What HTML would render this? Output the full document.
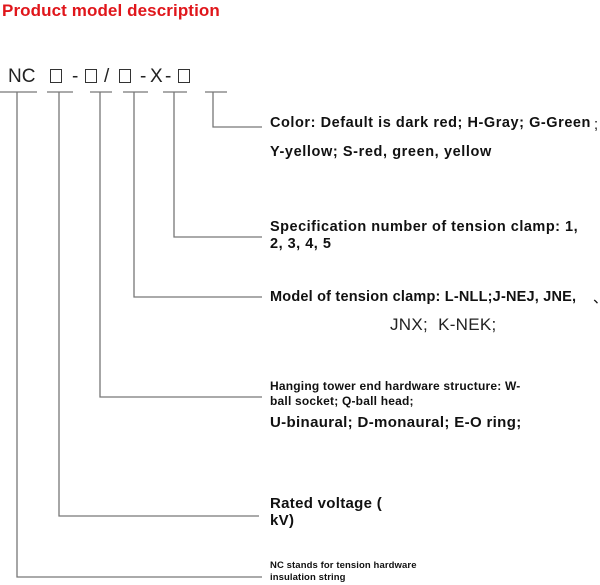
<!DOCTYPE html>
<html><head><meta charset="utf-8"><style>
body{margin:0;width:600px;height:585px;background:#fff;position:relative;overflow:hidden;font-family:"Liberation Sans",sans-serif}
.t{position:absolute;white-space:nowrap;color:#111;font-weight:bold;font-size:14.5px;line-height:17px;letter-spacing:0.3px}
.s{position:absolute;top:66px;font-size:19px;line-height:22px;color:#222;font-family:"Liberation Sans",sans-serif}
.b{position:absolute;top:69px;width:10px;height:12px;border:1.2px solid #333}
svg{position:absolute;left:0;top:0}
</style></head><body>
<div class="t" style="left:2px;top:0;color:#e0161b;font-size:17px;line-height:22px;letter-spacing:0.1px">Product model description</div>
<div class="s" style="left:8px">NC</div>
<div class="b" style="left:50px"></div>
<div class="s" style="left:72px">-</div>
<div class="b" style="left:85px"></div>
<div class="s" style="left:104px">/</div>
<div class="b" style="left:119px"></div>
<div class="s" style="left:140px">-</div>
<div class="s" style="left:150px">X</div>
<div class="s" style="left:165px">-</div>
<div class="b" style="left:178px"></div>
<svg width="600" height="585" stroke="#777" stroke-width="1.3" fill="none">
<path d="M0 92H37M47 92H73M90 92H112M123 92H148M163 92H187M205 92H227"/>
<path d="M17 92V577H262M59 92V516H259M100 92V397H262M134 92V297H262M174 92V237H262M213 92V127H262"/>
</svg>
<div class="t" style="left:270px;top:115px;letter-spacing:0.55px">Color: Default is dark red; H-Gray; G-Green</div>
<div class="t" style="left:594px;top:117px;font-weight:normal">;</div>
<div class="t" style="left:270px;top:144px;letter-spacing:0.6px">Y-yellow; S-red, green, yellow</div>
<div class="t" style="left:270px;top:219px;letter-spacing:0.5px">Specification number of tension clamp: 1,</div>
<div class="t" style="left:270px;top:236px;letter-spacing:0.5px">2, 3, 4, 5</div>
<div class="t" style="left:270px;top:289px;letter-spacing:0.2px">Model of tension clamp: L-NLL;J-NEJ, JNE,</div>
<div class="t" style="left:593px;top:291px;font-weight:normal">、</div>
<div class="t" style="left:390px;top:315px;font-weight:normal;font-size:17px;line-height:20px;color:#222">JNX;&nbsp; K-NEK;</div>
<div class="t" style="left:270px;top:379px;font-size:12px;line-height:15px;letter-spacing:0.2px">Hanging tower end hardware structure: W-</div>
<div class="t" style="left:270px;top:394px;font-size:12px;line-height:15px;letter-spacing:0.2px">ball socket; Q-ball head;</div>
<div class="t" style="left:270px;top:414px;font-size:15px;letter-spacing:0.35px">U-binaural; D-monaural; E-O ring;</div>
<div class="t" style="left:270px;top:495px;font-size:15px">Rated voltage (</div>
<div class="t" style="left:270px;top:512px;font-size:15px">kV)</div>
<div class="t" style="left:270px;top:560px;font-size:9.5px;line-height:11px;letter-spacing:0.1px">NC stands for tension hardware</div>
<div class="t" style="left:270px;top:572px;font-size:9.5px;line-height:11px;letter-spacing:0.1px">insulation string</div>
</body></html>
